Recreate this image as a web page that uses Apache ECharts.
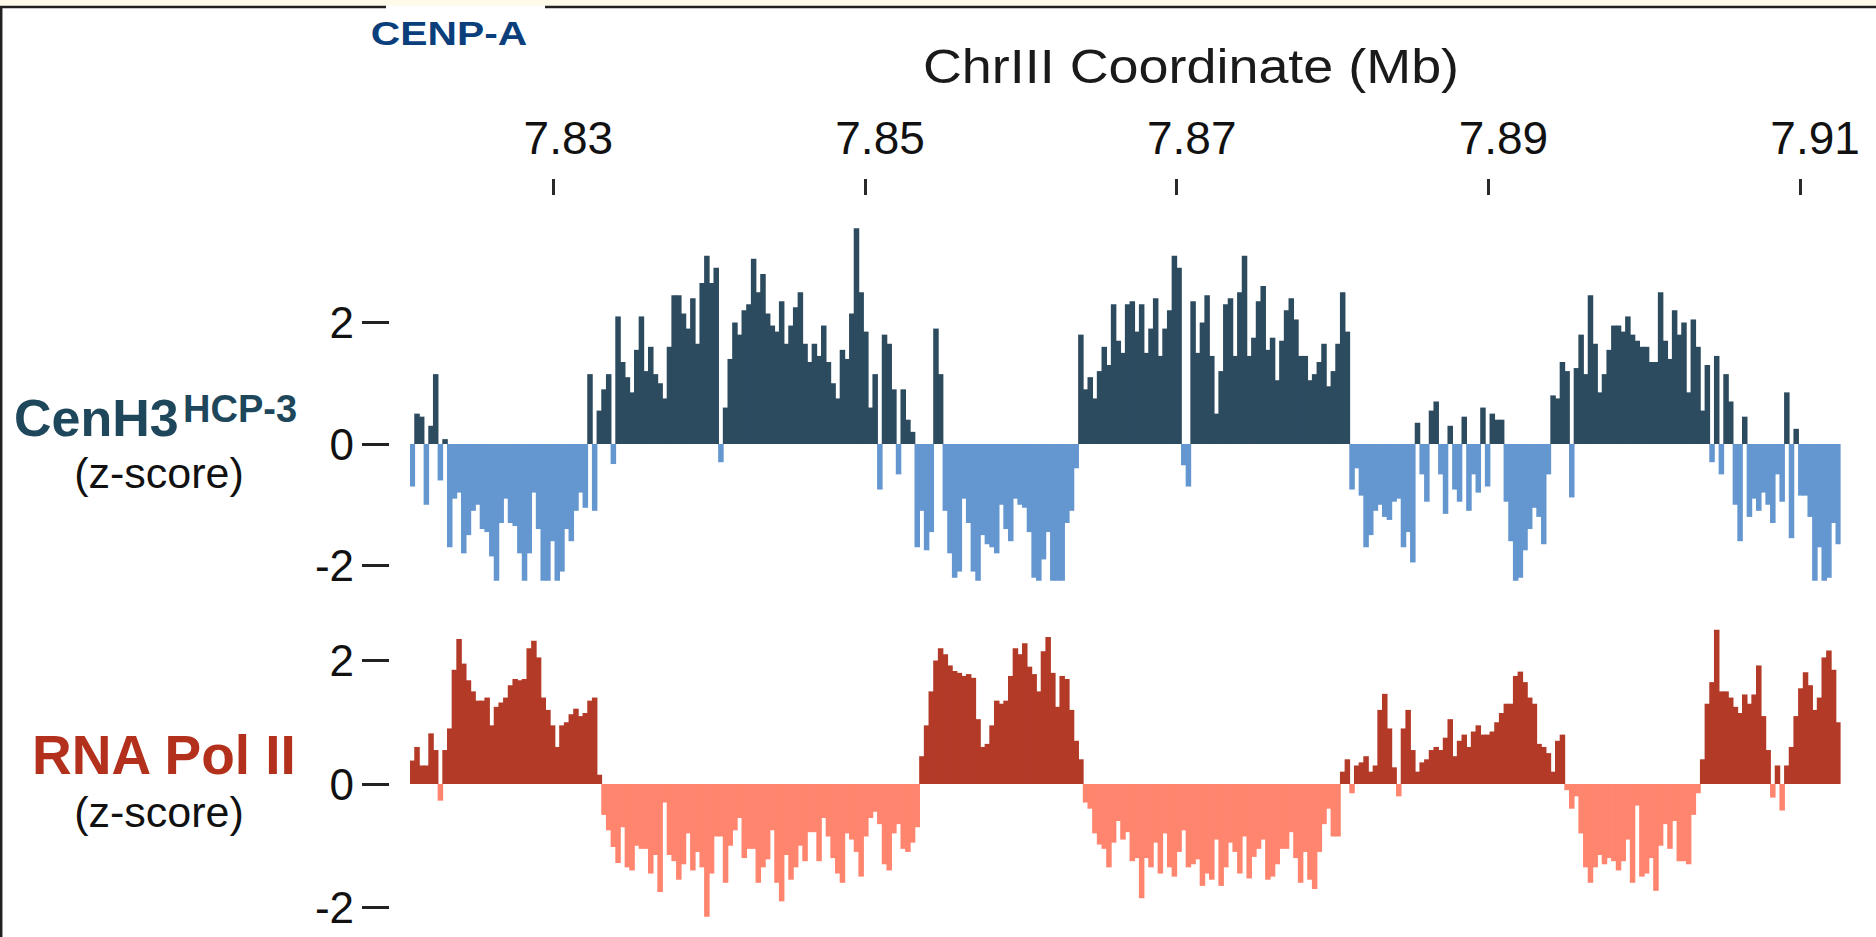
<!DOCTYPE html>
<html>
<head>
<meta charset="utf-8">
<script src="https://cdn.jsdelivr.net/npm/echarts@6/dist/echarts.min.js"></script>
<style>
html,body{margin:0;padding:0;background:#fff;}
#chart{width:1876px;height:937px;}
</style>
</head>
<body>
<div id="chart"></div>
<script>
// ---- data (z-scores per 300 bp bin along ChrIII, starting at 7.8208 Mb) ----
const binStartMb = 7.8208;
const binSizeMb = 0.0003;

const cenh3Z = [
 -0.7, 0.5, 0.45, -1.0, 0.3, 1.15, -0.6, 0.08, -1.7, -0.9,
 -0.8, -1.8, -1.5, -1.1, -1.0, -1.4, -1.45, -1.85, -2.25, -1.3,
 -0.9, -1.3, -1.35, -1.8, -2.25, -1.8, -0.8, -1.4, -2.25, -2.25,
 -1.6, -2.25, -2.1, -1.4, -1.6, -1.1, -0.8, -1.05, 1.15, -1.1,
 0.55, 0.9, 1.15, -0.33, 2.1, 1.35, 1.1, 0.85, 1.55, 2.1,
 1.2, 1.6, 1.15, 1.0, 0.75, 1.6, 2.45, 2.45, 2.15, 1.9,
 2.4, 1.65, 2.65, 3.1, 2.65, 2.9, -0.3, 0.6, 1.4, 2.0,
 1.8, 2.2, 2.3, 3.05, 2.5, 2.8, 2.15, 1.95, 1.85, 2.35,
 1.65, 1.95, 2.25, 2.5, 1.65, 1.35, 1.65, 1.45, 1.95, 1.35,
 1.0, 0.75, 1.55, 1.4, 2.15, 3.55, 2.5, 1.85, 0.6, 1.15,
 -0.75, 1.8, 1.65, 0.9, -0.5, 0.9, 0.4, 0.2, -1.7, -1.1,
 -1.75, -1.45, 1.9, 1.15, -1.1, -1.8, -2.2, -2.1, -0.9, -1.3,
 -2.1, -2.25, -1.5, -1.65, -1.7, -1.8, -1.0, -1.4, -1.6, -0.9,
 -1.0, -1.05, -1.45, -2.2, -2.25, -1.9, -1.45, -2.25, -2.25, -2.25,
 -1.3, -1.1, -0.4, 1.8, 0.9, 1.1, 0.75, 1.2, 1.6, 1.3,
 2.3, 1.7, 1.5, 2.3, 2.35, 1.85, 2.3, 1.5, 1.9, 2.4,
 1.45, 1.9, 2.2, 3.1, 2.9, -0.35, -0.7, 2.35, 1.5, 2.0,
 2.45, 1.45, 0.5, 1.2, 2.3, 2.4, 1.45, 2.5, 3.1, 1.45,
 1.75, 2.35, 2.6, 1.55, 1.75, 1.05, 1.7, 2.2, 2.4, 2.05,
 1.45, 1.45, 1.05, 1.15, 1.35, 1.65, 0.95, 1.2, 1.65, 2.5,
 1.85, -0.75, -0.4, -0.85, -1.7, -1.5, -1.1, -1.0, -1.2, -1.25,
 -0.95, -0.9, -1.7, -1.45, -1.95, 0.35, -0.5, -0.95, 0.55, 0.7,
 -0.5, -1.15, 0.3, -0.75, -0.95, 0.45, -1.1, -0.5, -0.8, 0.6,
 -0.7, 0.5, 0.4, 0.4, -0.95, -1.6, -2.25, -2.2, -1.75, -1.4,
 -1.05, -1.2, -1.65, -0.5, 0.8, 0.75, 1.35, 1.2, -0.88, 1.25,
 1.8, 1.15, 2.45, 1.65, 0.85, 1.15, 1.55, 1.95, 1.95, 1.85,
 2.1, 1.8, 1.7, 1.6, 1.6, 1.35, 1.35, 2.5, 1.7, 1.4,
 2.2, 1.8, 2.0, 0.85, 2.05, 1.6, 0.55, 1.3, -0.3, 1.45,
 -0.5, 1.15, 0.7, -1.0, -1.6, 0.45, -1.2, -0.9, -1.1, -0.8,
 -1.0, -1.3, -0.5, -0.95, 0.85, -1.55, 0.25, -0.85, -0.85, -1.2,
 -2.25, -1.7, -2.25, -2.2, -1.3, -1.65
];

const polIIZ = [
 0.38, 0.6, 0.3, 0.3, 0.82, 0.55, -0.27, 0.55, 0.9, 1.85,
 2.35, 1.95, 1.68, 1.5, 1.35, 1.35, 1.4, 0.95, 1.25, 1.32,
 1.4, 1.6, 1.7, 1.68, 1.7, 2.2, 2.32, 2.05, 1.4, 1.2,
 0.95, 0.6, 0.95, 1.0, 1.13, 1.22, 1.1, 1.15, 1.35, 1.4,
 0.15, -0.5, -0.75, -1.02, -1.28, -0.7, -1.35, -1.4, -1.0, -1.05,
 -1.05, -1.45, -1.15, -1.75, -0.3, -1.15, -1.25, -1.55, -1.3, -0.8,
 -1.4, -1.1, -1.35, -2.15, -1.45, -0.85, -0.85, -1.6, -1.0, -0.75,
 -0.55, -1.2, -1.05, -1.05, -1.6, -1.35, -1.22, -0.75, -1.6, -1.9,
 -1.15, -1.55, -1.35, -1.0, -1.25, -0.78, -0.78, -1.25, -0.55, -0.85,
 -1.2, -1.45, -1.6, -0.8, -0.9, -1.1, -1.5, -0.85, -0.55, -0.45,
 -0.65, -1.3, -1.4, -0.8, -0.65, -1.05, -1.1, -0.95, -0.7, 0.45,
 0.95, 1.5, 2.0, 2.2, 2.1, 1.92, 1.83, 1.8, 1.75, 1.78,
 1.72, 1.05, 0.6, 0.65, 0.95, 1.35, 1.3, 1.35, 1.75, 2.2,
 2.1, 2.28, 1.9, 1.78, 1.5, 2.15, 2.38, 1.8, 1.25, 1.75,
 1.7, 1.2, 0.7, 0.4, -0.3, -0.4, -0.8, -0.98, -1.05, -1.35,
 -0.95, -0.6, -0.9, -0.78, -1.25, -1.2, -1.85, -1.2, -1.35, -0.95,
 -1.45, -0.8, -1.35, -1.5, -1.1, -0.75, -1.35, -1.3, -1.22, -1.65,
 -1.45, -1.55, -0.9, -1.65, -1.35, -0.95, -1.1, -1.45, -0.85, -1.53,
 -1.18, -1.05, -0.9, -1.55, -1.5, -1.3, -1.05, -1.05, -0.78, -1.2,
 -1.6, -1.1, -1.55, -1.7, -1.1, -0.65, -0.4, -0.85, -0.85, 0.2,
 0.4, -0.15, 0.3, 0.35, 0.45, 0.2, 0.3, 1.2, 1.46, 0.9,
 0.27, -0.2, 0.9, 1.2, 0.55, 0.2, 0.35, 0.4, 0.55, 0.6,
 0.55, 0.75, 1.05, 0.45, 0.7, 0.8, 0.6, 0.85, 0.95, 0.8,
 0.8, 0.85, 1.0, 1.15, 1.3, 1.3, 1.75, 1.82, 1.65, 1.4,
 1.3, 0.65, 0.6, 0.5, 0.2, 0.7, 0.8, -0.1, -0.4, -0.2,
 -0.8, -1.35, -1.6, -1.35, -1.15, -1.3, -1.2, -1.25, -1.4, -1.25,
 -0.9, -1.6, -0.35, -1.5, -1.45, -1.2, -1.73, -1.0, -0.65, -1.05,
 -0.6, -1.25, -1.25, -1.3, -0.5, -0.15, 0.4, 1.3, 1.65, 2.5,
 1.5, 1.5, 1.4, 1.25, 1.15, 1.45, 1.3, 1.45, 1.92, 1.1,
 0.55, -0.22, 0.3, -0.43, 0.3, 0.6, 1.1, 1.55, 1.81, 1.6,
 1.2, 1.4, 2.05, 2.16, 1.85, 1.0
];

const xTickMb = [7.83, 7.85, 7.87, 7.89, 7.91];
const yTicks = [-2, 0, 2];

const xAxisTitle = 'ChrIII Coordinate (Mb)';
const tabLabel = 'CENP-A';

// ---- derived ----
const nBins = cenh3Z.length;
const categories = cenh3Z.map((_, i) => (binStartMb + i * binSizeMb).toFixed(4));
const xMin = binStartMb;
const xMax = binStartMb + nBins * binSizeMb;
const posPart = arr => arr.map(v => (v >= 0 ? v : '-'));
const negPart = arr => arr.map(v => (v < 0 ? v : '-'));

const FONT = '"Liberation Sans", Arial, Helvetica, sans-serif';
const COL = {
  cenPos: '#2d4b5f', cenNeg: '#6496d0',
  polPos: '#b43a28', polNeg: '#ff856e',
  cenLabel: '#1e475c', polLabel: '#b2301c', tab: '#0b3f7c', text: '#111111'
};

const chart = echarts.init(document.getElementById('chart'), null, {renderer: 'svg'});

function yAxisCfg(grid, min, max) {
  return {
    gridIndex: grid, type: 'value', min: min, max: max, offset: 21,
    axisLine: {show: false}, splitLine: {show: false},
    axisTick: {show: true, customValues: yTicks, length: 27, lineStyle: {color: '#222', width: 3}},
    axisLabel: {customValues: yTicks, fontSize: 44, color: COL.text, margin: 35, fontFamily: FONT,
      formatter: v => String(v)}
  };
}

function barSeries(xi, yi, data, color) {
  return {type: 'bar', xAxisIndex: xi, yAxisIndex: yi, data: data, barWidth: '118%', barGap: '-100%',
    silent: true, itemStyle: {color: color}};
}

const option = {
  animation: false,
  backgroundColor: '#ffffff',
  grid: [
    {left: 410, width: 1430.6, top: 225.3, height: 364.5},
    {left: 410, width: 1430.6, top: 623.45, height: 308.75}
  ],
  xAxis: [
    {gridIndex: 0, type: 'category', data: categories, show: false},
    {gridIndex: 0, type: 'value', position: 'top', offset: 30.3, min: xMin, max: xMax,
      axisLine: {show: false}, splitLine: {show: false},
      axisTick: {show: true, customValues: xTickMb, length: 16, lineStyle: {color: '#2a2a2a', width: 3}},
      axisLabel: {customValues: xTickMb, fontSize: 46, color: COL.text, margin: 34, fontFamily: FONT,
        padding: [0, 0, 0, 30], formatter: v => v.toFixed(2)}
    },
    {gridIndex: 1, type: 'category', data: categories, show: false}
  ],
  yAxis: [yAxisCfg(0, -2.4, 3.6), yAxisCfg(1, -2.4, 2.6)],
  series: [
    barSeries(0, 0, posPart(cenh3Z), COL.cenPos),
    barSeries(0, 0, negPart(cenh3Z), COL.cenNeg),
    barSeries(2, 1, posPart(polIIZ), COL.polPos),
    barSeries(2, 1, negPart(polIIZ), COL.polNeg)
  ],
  graphic: [
    {type: 'rect', shape: {x: 0, y: 0, width: 1876, height: 6}, style: {fill: '#fffbea'}, silent: true},
    {type: 'line', shape: {x1: 0, y1: 7, x2: 386, y2: 7}, style: {stroke: '#222', lineWidth: 2.5}, silent: true},
    {type: 'line', shape: {x1: 545, y1: 7, x2: 1876, y2: 7}, style: {stroke: '#222', lineWidth: 2.5}, silent: true},
    {type: 'line', shape: {x1: 1.2, y1: 6, x2: 1.2, y2: 937}, style: {stroke: '#222', lineWidth: 2.5}, silent: true},
    {type: 'text', x: 449, y: 33, scaleX: 1.2, style: {text: tabLabel, fontSize: 34, fontWeight: 'bold', fontFamily: FONT,
      fill: COL.tab, align: 'center', verticalAlign: 'middle', lineHeight: 30}},
    {type: 'text', x: 1191, y: 66, scaleX: 1.1, style: {text: xAxisTitle, fontSize: 49, fontFamily: FONT,
      fill: '#1a1a1a', align: 'center', verticalAlign: 'middle', lineHeight: 44}},
    {type: 'text', x: 14, y: 418, style: {text: 'CenH3', fontSize: 52, fontWeight: 'bold', fontFamily: FONT,
      fill: COL.cenLabel, align: 'left', verticalAlign: 'middle', lineHeight: 42}},
    {type: 'text', x: 183, y: 409, style: {text: 'HCP-3', fontSize: 38, fontWeight: 'bold', fontFamily: FONT,
      fill: COL.cenLabel, align: 'left', verticalAlign: 'middle', lineHeight: 30}},
    {type: 'text', x: 159, y: 473, style: {text: '(z-score)', fontSize: 43, fontFamily: FONT,
      fill: COL.text, align: 'center', verticalAlign: 'middle', lineHeight: 38}},
    {type: 'text', x: 164, y: 755, style: {text: 'RNA Pol II', fontSize: 55, fontWeight: 'bold', fontFamily: FONT,
      fill: COL.polLabel, align: 'center', verticalAlign: 'middle', lineHeight: 42}},
    {type: 'text', x: 159, y: 812, style: {text: '(z-score)', fontSize: 43, fontFamily: FONT,
      fill: COL.text, align: 'center', verticalAlign: 'middle', lineHeight: 38}}
  ]
};
chart.setOption(option);
</script>
</body>
</html>
